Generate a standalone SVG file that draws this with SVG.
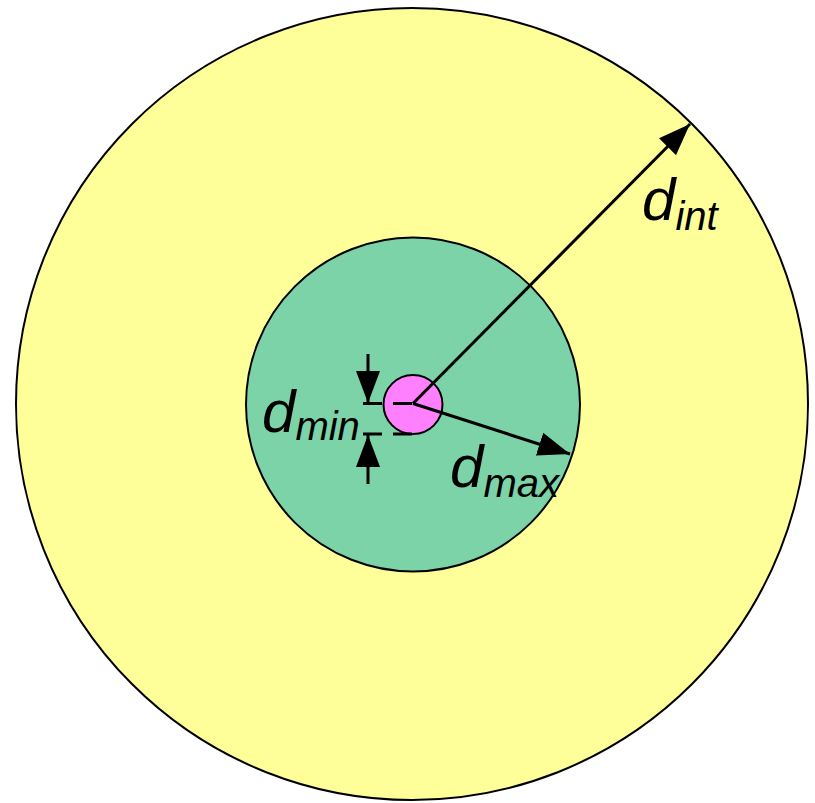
<svg xmlns="http://www.w3.org/2000/svg" width="815" height="803" viewBox="0 0 815 803">
<defs>
<style>
.ring{stroke:#000;stroke-width:2}
.ln{stroke:#000;stroke-width:3;fill:none}
.dash{stroke:#000;stroke-width:3;fill:none;stroke-dasharray:19 11}
.lbl{font-family:"Liberation Sans",Arial,sans-serif;font-style:italic;fill:#000}
.big{font-size:60px}
.sub{font-size:40px}
</style>
<marker id="ah" markerWidth="32" markerHeight="24" refX="32" refY="12" orient="auto" markerUnits="userSpaceOnUse">
<path d="M0,0 L32,12 L0,24 Z" fill="#000"/>
</marker>
</defs>
<g id="outer"><circle cx="412" cy="404" r="396" fill="#FFFF99" class="ring"/></g>
<g id="middle"><circle cx="413" cy="404.5" r="167" fill="#7DD3A8" class="ring"/></g>
<g id="inner"><circle cx="413" cy="404.5" r="29.5" fill="#FF80FF" class="ring"/></g>
<g id="connectors">
<line class="ln" x1="413" y1="403.5" x2="690" y2="124" marker-end="url(#ah)"/>
<line class="ln" x1="413" y1="403.5" x2="570" y2="454" marker-end="url(#ah)"/>
<line class="dash" x1="363" y1="403.5" x2="413" y2="403.5"/>
<line class="dash" x1="363" y1="434" x2="413" y2="434"/>
<line class="ln" x1="368" y1="354" x2="368" y2="403" marker-end="url(#ah)"/>
<line class="ln" x1="368" y1="484" x2="368" y2="435" marker-end="url(#ah)"/>
</g>
<g id="labels">
<text class="lbl" x="262" y="432"><tspan class="big">d</tspan><tspan class="sub" dy="8">min</tspan></text>
<text class="lbl" x="450" y="487"><tspan class="big">d</tspan><tspan class="sub" dy="10">max</tspan></text>
<text class="lbl" x="642" y="220"><tspan class="big">d</tspan><tspan class="sub" dy="10">int</tspan></text>
</g>
</svg>
